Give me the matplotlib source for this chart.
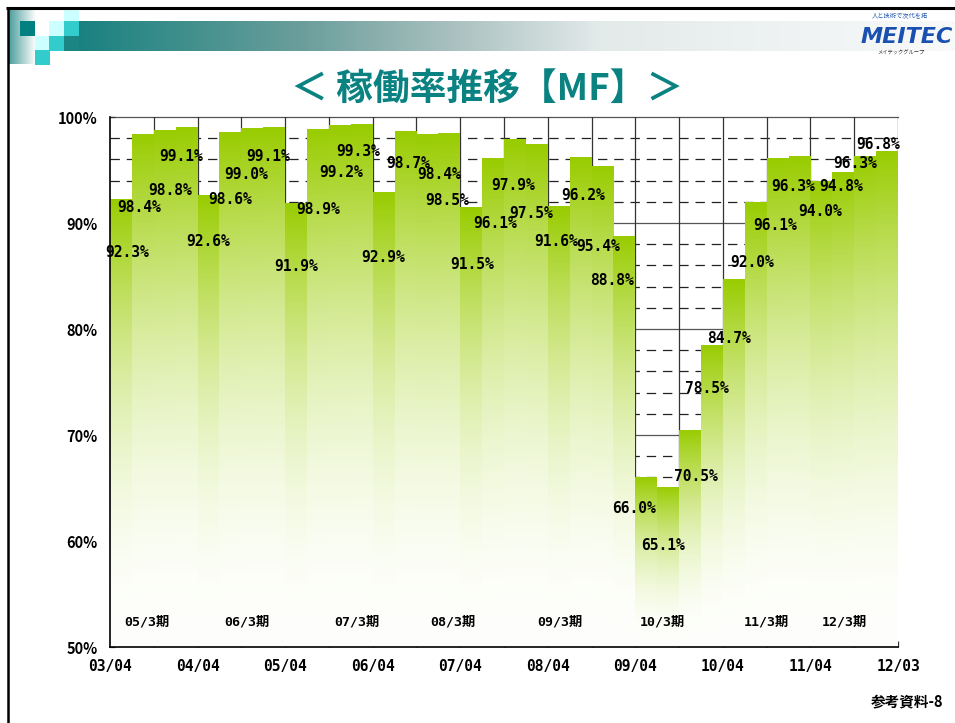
import numpy as np
import matplotlib
matplotlib.use('Agg')
import matplotlib.pyplot as plt
from matplotlib.patches import Rectangle

plt.rcParams['font.family'] = ['DejaVu Sans', 'Noto Sans CJK JP']

# ---------------- data ----------------
values = [92.3, 98.4, 98.8, 99.1,
          92.6, 98.6, 99.0, 99.1,
          91.9, 98.9, 99.2, 99.3,
          92.9, 98.7, 98.4, 98.5,
          91.5, 96.1, 97.9, 97.5,
          91.6, 96.2, 95.4, 88.8,
          66.0, 65.1, 70.5, 78.5,
          84.7, 92.0, 96.1, 96.3,
          94.0, 94.8, 96.3, 96.8]
xtick_labels = ['03/04', '04/04', '05/04', '06/04', '07/04', '08/04',
                '09/04', '10/04', '11/04', '12/03']
fiscal_labels = ['05/3期', '06/3期', '07/3期', '08/3期', '09/3期',
                 '10/3期', '11/3期', '12/3期']
ytick_labels = ['50%', '60%', '70%', '80%', '90%', '100%']
title = '＜ 稼働率推移【MF】＞'

# label placement (layout, in axis units: quarter index / percent)
label_x = [0.78, 1.32, 2.74, 3.24, 4.47, 5.48, 6.21, 7.21, 8.49, 9.50, 10.55, 11.32,
           12.47, 13.61, 15.02, 15.39, 16.53, 17.58, 18.40, 19.22, 20.37, 21.60, 22.28, 22.92,
           23.93, 25.25, 26.76, 27.26, 28.26, 29.32, 30.37, 31.19, 32.42, 33.42, 34.02, 35.11]
label_y = [87.26, 91.42, 93.11, 96.23, 88.30, 92.17, 94.62, 96.23, 85.85, 91.32, 94.72, 96.70,
           86.79, 95.66, 94.62, 92.08, 86.04, 89.91, 93.58, 90.94, 88.21, 92.55, 87.83, 84.53,
           63.02, 59.62, 66.04, 74.43, 79.06, 86.23, 89.81, 93.40, 91.04, 93.40, 95.57, 97.36]
fiscal_x = [1.69, 6.26, 11.28, 15.66, 20.55, 25.25, 30.0, 33.56]
fiscal_y = 52.4

W, H = 955, 723
fig = plt.figure(figsize=(W / 100, H / 100), dpi=100)

# ---------------- background / header ----------------
bg = fig.add_axes([0, 0, 1, 1], zorder=0)
bg.set_xlim(0, W)
bg.set_ylim(H, 0)
bg.axis('off')

# header gradient band
xs = np.linspace(64, W, 400)
stops_x = [64, 300, 450, 600, 955]
stops_c = np.array([[20, 128, 126], [106, 158, 155], [168, 192, 191],
                    [227, 234, 234], [249, 250, 250]]) / 255
band = np.stack([np.interp(xs, stops_x, stops_c[:, k]) for k in range(3)], axis=-1)[None, :, :]
bg.imshow(band, extent=(64, W, 51, 21), aspect='auto', interpolation='bilinear', zorder=1)

# left vertical strip gradient
xs2 = np.linspace(0, 1, 100)
c0 = np.array([70, 155, 152]) / 255
c1 = np.array([255, 255, 255]) / 255
strip = (c0[None, :] * (1 - xs2[:, None]) + c1[None, :] * xs2[:, None])[None, :, :]
bg.imshow(strip, extent=(8, 35, 64, 10), aspect='auto', interpolation='bilinear', zorder=1)

# squares
sq = [(20, 21, '#008080'), (64, 10, '#ccffff'), (49, 21, '#ccffff'), (64, 21, '#33cccc'),
      (35, 36, '#ccffff'), (49, 36, '#33cccc'), (35, 50, '#33cccc')]
for x0, y0, c in sq:
    bg.add_patch(Rectangle((x0, y0), 15, 15, facecolor=c, edgecolor='none', zorder=2))
bg.add_patch(Rectangle((64, 36), 15, 15, facecolor='#1a8582', edgecolor='none', zorder=2))

# frame lines
bg.plot([6, W], [8, 8], color='black', lw=2.2, zorder=3, solid_capstyle='butt')
bg.plot([7.5, 7.5], [7, H], color='black', lw=1.8, zorder=3, solid_capstyle='butt')

# logo
bg.text(861, 37, 'MEITEC', color='#1a50b0', fontsize=16, fontweight='heavy',
        fontstyle='italic', ha='left', va='center', zorder=4)
bg.text(872, 16, '人と技術で次代を拓', color='#1a50b0', fontsize=4.5,
        ha='left', va='center', zorder=4, fontfamily=['Noto Sans CJK JP'])
bg.text(877, 53, 'メイテックグループ', color='#333333', fontsize=3.8,
        ha='left', va='center', zorder=4, fontfamily=['Noto Sans CJK JP'], fontstyle='italic')

# title
bg.text(487, 89, title, color='#0a8282', fontsize=26.5, fontweight='bold',
        ha='center', va='center', fontfamily=['Noto Sans CJK JP'], zorder=4)

# page ref
bg.text(943, 701, '参考資料-8', color='black', fontsize=10.5, fontweight='bold',
        ha='right', va='center', fontfamily=['Noto Sans CJK JP'], zorder=4)

# ---------------- main chart ----------------
ax = fig.add_axes([110 / W, 1 - 647 / H, 788 / W, 530 / H], zorder=2)
ax.set_facecolor('none')

n = len(values)
xpos = np.arange(n) + 0.5
bars = ax.bar(xpos, np.array(values) - 50, bottom=50, width=1.0,
              color='none', edgecolor='none', zorder=3)

top_c = np.array([153, 204, 0]) / 255
bot_c = np.array([254, 255, 252]) / 255
s = np.linspace(0, 1, 256)[:, None, None] ** 2.0
grad = bot_c[None, None, :] * (1 - s) + top_c[None, None, :] * s
for b, v in zip(bars, values):
    x0 = b.get_x()
    im = ax.imshow(grad, extent=(x0, x0 + b.get_width(), 50, v), origin='lower',
                   aspect='auto', interpolation='bilinear', zorder=3)
    im.set_clip_path(b)

ax.set_xlim(0, n)
ax.set_ylim(50, 100)

# grid
for yv in range(52, 100, 2):
    if yv % 10:
        ax.axhline(yv, color='#222222', lw=0.9, linestyle=(0, (7.5, 5.5)), zorder=1)
for yv in range(60, 100, 10):
    ax.axhline(yv, color='#555555', lw=0.9, zorder=1)
ax.axhline(100, color='#555555', lw=0.9, zorder=1, clip_on=False)
for xv in range(2, n + 1, 2):
    ax.axvline(xv, color='#333333', lw=0.9, zorder=1)

for sp in ['top', 'right']:
    ax.spines[sp].set_visible(False)
for sp in ['left', 'bottom']:
    ax.spines[sp].set_color('black')
    ax.spines[sp].set_linewidth(1.2)
    ax.spines[sp].set_zorder(4)

ax.set_xticks(range(0, n + 1, 4))
ax.set_xticks(range(2, n, 4), minor=True)
ax.set_xticklabels(xtick_labels, fontfamily='DejaVu Sans Mono', fontweight='bold', fontsize=10.5)
ax.set_yticks(range(50, 101, 10))
ax.set_yticklabels(ytick_labels, fontfamily=['Noto Sans CJK JP'], fontweight='bold', fontsize=10.5)
ax.tick_params(axis='x', which='major', direction='in', length=4, width=0.9, pad=9, color='#333333')
ax.tick_params(axis='x', which='minor', direction='in', length=2.5, width=0.9, color='#333333')
ax.tick_params(axis='y', which='major', direction='in', length=3.6, width=0.9, pad=9, color='#333333')

for xl, yl, v in zip(label_x, label_y, values):
    ax.text(xl, yl, f'{v:.1f}%', ha='center', va='center', fontsize=10.5,
            fontfamily='DejaVu Sans Mono', fontweight='bold', color='black', zorder=6)

for fx, fl in zip(fiscal_x, fiscal_labels):
    ax.text(fx, fiscal_y, fl, ha='center', va='center', fontsize=9.5, fontweight='bold',
            fontfamily=['DejaVu Sans Mono', 'Noto Sans CJK JP'], color='black', zorder=6)

fig.savefig('out.png', dpi=100)
